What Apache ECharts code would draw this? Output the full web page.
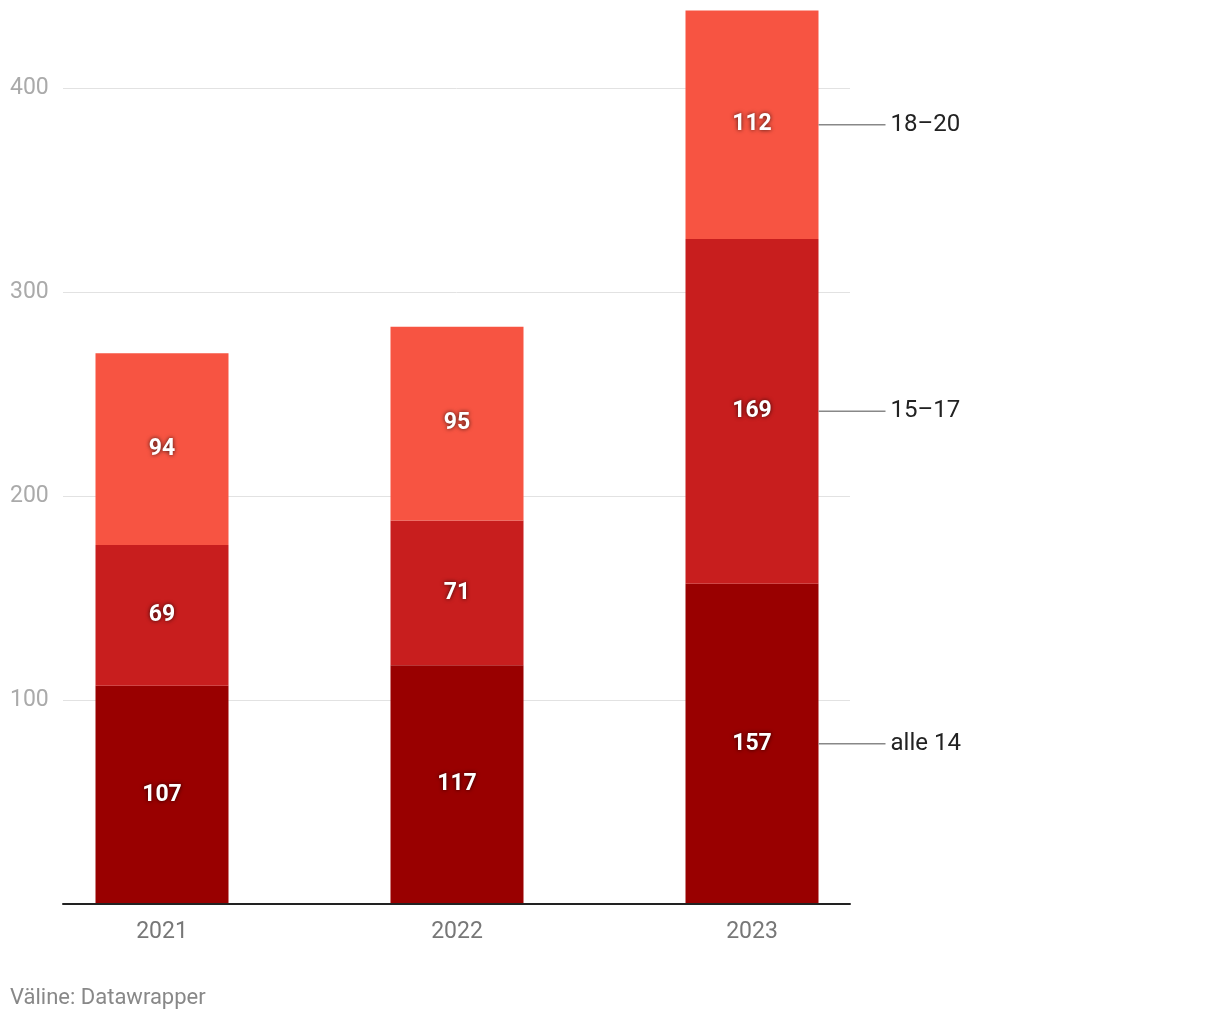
<!DOCTYPE html>
<html>
<head>
<meta charset="utf-8">
<script src="https://cdn.jsdelivr.net/npm/echarts@6/dist/echarts.min.js"></script>
<style>
html,body{margin:0;padding:0;background:#fff;}
#chart{width:1220px;height:1020px;}
</style>
</head>
<body>
<div id="chart"></div>
<script>
const categories = ['2021', '2022', '2023'];
const seriesNames = ['alle 14', '15–17', '18–20'];
const valuesU14 = [107, 117, 157];
const values1517 = [69, 71, 169];
const values1820 = [94, 95, 112];
const yTicks = [100, 200, 300, 400];
const sourceText = 'Väline: Datawrapper';

const allValues = [valuesU14, values1517, values1820];
const colors = ['#990000', '#c81e1e', '#f75442'];
const FONT = 'Roboto, "Noto Sans", sans-serif';

const lastIdx = categories.length - 1;
const annData = [];
let cum = 0;
for (let s = 0; s < allValues.length; s++) {
  const v = allValues[s][lastIdx];
  annData.push([lastIdx, cum + v / 2, seriesNames[s]]);
  cum += v;
}
const totalMax = Math.max(...categories.map((_, i) => allValues.reduce((a, arr) => a + arr[i], 0)));

const chart = echarts.init(document.getElementById('chart'));
const barSeries = allValues.map((vals, s) => ({
  type: 'bar',
  name: seriesNames[s],
  stack: 'total',
  xAxisIndex: 1,
  yAxisIndex: 1,
  barWidth: 133,
  data: vals,
  itemStyle: { color: colors[s], borderWidth: 0 },
  label: {
    show: true,
    position: 'inside',
    color: '#fff',
    fontFamily: FONT,
    fontWeight: 'bold',
    fontSize: 23,
    textShadowColor: 'rgba(0,0,0,0.75)',
    textShadowBlur: 4
  },
  silent: true
}));

chart.setOption({
  animation: false,
  title: {
    text: sourceText,
    left: 10,
    top: 987,
    padding: 0,
    textStyle: { color: '#888', fontSize: 22, fontWeight: 'normal', fontFamily: FONT }
  },
  grid: [
    { left: 63, right: 370, top: 88, bottom: 116 },
    { left: 14.5, right: 320.5, top: 904 - totalMax * 2.04, bottom: 116 }
  ],
  xAxis: [
    {
      type: 'category', gridIndex: 0, data: categories,
      axisLine: { show: true, lineStyle: { color: '#222', width: 2 } },
      axisTick: { show: false }, axisLabel: { show: false }, z: 10
    },
    {
      type: 'category', gridIndex: 1, data: categories,
      axisLine: { show: false }, axisTick: { show: false },
      axisLabel: { color: '#777', fontSize: 23, margin: 17, fontFamily: FONT }
    }
  ],
  yAxis: [
    {
      type: 'value', gridIndex: 0, min: 0, max: yTicks[yTicks.length - 1], interval: 100,
      axisLine: { show: false }, axisTick: { show: false },
      splitLine: { lineStyle: { color: '#e2e2e2', width: 1 } },
      axisLabel: {
        align: 'left', margin: 53, color: '#aaa', fontSize: 23, fontFamily: FONT,
        padding: [4, 0, 0, 0],
        formatter: v => (yTicks.indexOf(v) >= 0 ? String(v) : '')
      }
    },
    {
      type: 'value', gridIndex: 1, min: 0, max: totalMax, show: false
    }
  ],
  series: barSeries.concat([{
    type: 'custom',
    xAxisIndex: 1,
    yAxisIndex: 1,
    data: annData,
    silent: true,
    z: 5,
    renderItem: function (params, api) {
      const p = api.coord([api.value(0), api.value(1)]);
      const half = 66.5;
      return {
        type: 'group',
        children: [
          { type: 'line', shape: { x1: p[0] + half, y1: p[1], x2: p[0] + half + 67, y2: p[1] },
            style: { stroke: '#888', lineWidth: 1.5 } },
          { type: 'text', x: p[0] + half + 72, y: p[1],
            style: { text: annData[params.dataIndex][2], fill: '#222', fontSize: 24, fontFamily: FONT,
                     textAlign: 'left', textVerticalAlign: 'middle' } }
        ]
      };
    }
  }])
});
</script>
</body>
</html>
